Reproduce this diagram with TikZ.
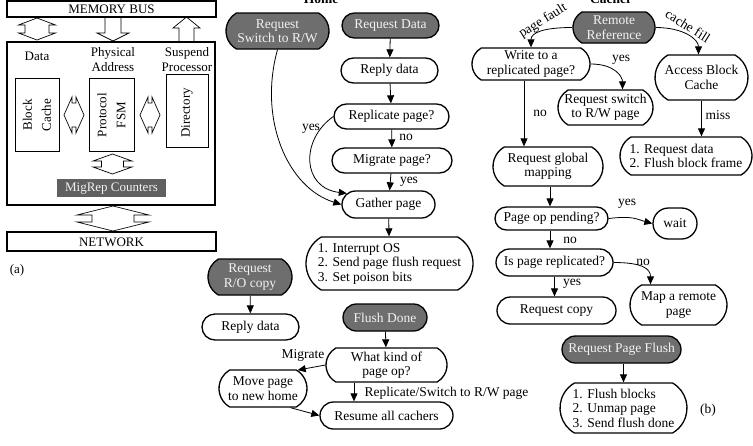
\documentclass[tikz,border=0pt]{standalone}
\usepackage{fontspec}
\setmainfont{Liberation Serif}
\usetikzlibrary{shapes.misc,arrows.meta,calc}
\definecolor{darkfill}{HTML}{6E6E6E}
\definecolor{lighttext}{HTML}{F2F2F2}
\newcommand\myVD[6]{\draw[blk] (#1,#2) -- (#1+#4,#2+#6) -- (#1+#5,#2+#6) -- (#1+#5,#3-#6) -- (#1+#4,#3-#6) -- (#1,#3) -- (#1-#4,#3-#6) -- (#1-#5,#3-#6) -- (#1-#5,#2+#6) -- (#1-#4,#2+#6) -- cycle;}
\newcommand\myHD[6]{\draw[blk] (#2,#1) -- (#2+#6,#1-#4) -- (#2+#6,#1-#5) -- (#3-#6,#1-#5) -- (#3-#6,#1-#4) -- (#3,#1) -- (#3-#6,#1+#4) -- (#3-#6,#1+#5) -- (#2+#6,#1+#5) -- (#2+#6,#1+#4) -- cycle;}
\begin{document}
\begin{tikzpicture}[x=1pt,y=-1pt,
  every node/.style={font=\fontsize{13.5}{14.5}\selectfont, inner sep=0pt},
  pill/.style 2 args={draw, line width=1.3pt, rounded rectangle, minimum width=#1, minimum height=#2, align=center},
  tall/.style={rounded rectangle arc length=120},
  dark/.style={fill=darkfill, text=lighttext},
  arr/.style={-{Triangle[length=8pt,width=7pt]}, line width=0.8pt},
  blk/.style={line width=0.7pt},
  boxa/.style={line width=1.4pt},
  boxb/.style={line width=0.9pt},
  lft/.style={font=\fontsize{13}{15}\selectfont},
  rot/.style={rotate=90, align=center, font=\fontsize{13}{19}\selectfont}]
\useasboundingbox (0,0) rectangle (753,445);

% ---------------- (a) ----------------
\draw[boxa] (7,1) rectangle (216,17);
\node[lft] (mbus) at (111.5,9.5) {MEMORY BUS};
\draw[boxa] (7,42) rectangle (215,205);
\draw[boxa] (7,232) rectangle (216,251);
\node[lft] (net) at (111.5,242) {NETWORK};

% arrows bus -> box
\myVD{37}{18}{40}{18.5}{12}{7}
\draw[blk] (105,17) -- (105,33) -- (97,33) -- (113,41) -- (129,33) -- (121,33) -- (121,17);
\draw[blk] (186.5,17) -- (200,28) -- (194,28) -- (194,42) -- (179,42) -- (179,28) -- (173,28) -- cycle;

\node[lft] (ldata) at (37,56) {Data};
\node[lft, align=center] (lpa) at (113,59.5) {Physical\\Address};
\node[lft, align=center] (lsp) at (187,59.5) {Suspend\\Processor};

\draw[boxb] (15,78) rectangle (59,151);
\node[rot] (bc) at (37,115) {Block\\Cache};
\draw[boxb] (89,78) rectangle (134,151);
\node[rot] (pf) at (111.5,115) {Protocol\\FSM};
\draw[boxb] (166,74) rectangle (208,147);
\node[rot] (dir) at (187,113) {Directory};

\myHD{115}{64}{84}{18}{12}{8}
\myHD{115}{140}{160}{18}{12}{8}
\myVD{112.5}{154}{174}{19.5}{11}{7}

\fill[darkfill!110] (57,179) rectangle (166,197);
\node[lft, text=lighttext] (mig) at (111.5,188.5) {MigRep Counters};
\myVD{113}{206}{231}{36}{21}{9}

\node[lft] (la) at (17,270) {(a)};

% ---------------- titles ----------------
\node[anchor=base, font=\fontsize{13.5}{14.5}\selectfont\bfseries] (home) at (321,3.5) {Home};
\node[anchor=base, font=\fontsize{13.5}{14.5}\selectfont\bfseries] (cacher) at (611,3.5) {Cacher};

% ---------------- Home column ----------------
\node[pill={103pt}{36pt}, tall, dark] (rsw) at (277.5,31) {Request\\Switch to R/W};
\node[pill={97pt}{25pt}, dark] (rdata) at (390.5,25.5) {Request Data};
\node[pill={97pt}{25pt}] (reply1) at (389.5,70.5) {Reply data};
\node[pill={115pt}{25pt}] (rep) at (391.5,116.5) {Replicate page?};
\node[pill={120pt}{25pt}] (migp) at (392,160.5) {Migrate page?};
\node[pill={93pt}{27pt}] (gather) at (388.5,204.5) {Gather page};
\node[pill={167pt}{53pt}, tall, align=left] (list1) at (389.5,263.5) {1. Interrupt OS\\2. Send page flush request\\3. Set poison bits};
\node[pill={84pt}{36pt}, tall, dark] (rro) at (250,277) {Request\\R/O copy};
\node[pill={97pt}{26pt}] (reply2) at (250.5,327) {Reply data};
\node[pill={84pt}{27pt}, dark] (fdone) at (385,317.5) {Flush Done};
\node[pill={121pt}{34pt}, tall] (kind) at (386.5,365) {What kind of\\page op?};
\node[pill={88pt}{37pt}, tall] (move) at (263,388.5) {Move page\\to new home};
\node[pill={133pt}{27pt}] (resume) at (386.5,415.5) {Resume all cachers};

\draw[arr] (rdata) -- (reply1);
\draw[arr] (reply1) -- (rep);
\draw[arr] (rep) -- (migp);
\draw[arr] (migp) -- (gather);
\draw[arr] (gather) -- (list1);
\draw[arr] (rsw.south) .. controls (258,120) and (288,188) .. (gather.west);
\draw[arr] (rep.west) .. controls (300,140) and (302,188) .. (gather.165);
\draw[arr] (rro) -- (reply2);
\draw[arr] (fdone) -- (kind);
\draw[arr] (kind.west) -- (move.28);
\draw[arr] (kind.south -| 354,0) -- (resume.north -| 354,0);
\draw[arr] (move.-35) -- (resume.west);

\node (lyes1) at (311,129) {yes};
\node (lno1) at (406,137) {no};
\node (lyes2) at (409,182) {yes};
\node (lmig) at (303,355) {Migrate};
\node (lrep) at (446.5,393) {Replicate/Switch to R/W page};

% ---------------- Cacher column ----------------
\node[pill={82pt}{31pt}, tall, dark] (remote) at (614,27.5) {Remote\\Reference};
\node[pill={118pt}{32pt}, tall] (write) at (531,64) {Write to a\\replicated page?};
\node[pill={95pt}{35pt}, tall] (rsw2) at (605.5,107.5) {Request switch\\to R/W page};
\node[pill={93pt}{45pt}, tall] (access) at (701.5,77.5) {Access Block\\Cache};
\node[pill={132pt}{38pt}, tall, align=left] (rlist) at (686,156) {1. Request data\\2. Flush block frame};
\node[pill={110pt}{39pt}, tall] (rgm) at (548,166.5) {Request global\\mapping};
\node[pill={113pt}{23pt}] (pop) at (551.5,218.5) {Page op pending?};
\node[pill={44pt}{31pt}] (wait) at (675,223.5) {wait};
\node[pill={117pt}{27pt}] (ispr) at (554.5,262.5) {Is page replicated?};
\node[pill={97pt}{40pt}, tall] (map) at (678.5,305) {Map a remote\\page};
\node[pill={119pt}{27pt}] (rcopy) at (556.5,310.5) {Request copy};
\node[pill={119pt}{27pt}, dark] (rpf) at (621.5,349.5) {Request Page Flush};
\node[pill={127pt}{50pt}, tall, align=left] (flist) at (623.5,408) {1. Flush blocks\\2. Unmap page\\3. Send flush done};

\draw[arr] (remote.west) .. controls +(-28,0) and +(0,-15) .. (write.north);
\draw[arr] (remote.east) .. controls +(28,0) and +(0,-15) .. ($(access.north)+(-3,0)$);
\draw[arr] (write.east) .. controls +(25,0) and +(0,-12) .. ($(rsw2.north)+(17,0)$);
\draw[arr] (write.south -| 524,0) -- (rgm.north -| 524,0);
\draw[arr] (access.south) -- (access.south |- rlist.north);
\draw[arr] (rgm.south -| 550,0) -- (pop.north -| 550,0);
\draw[arr] (pop.east) .. controls +(25,-3) and +(-15,-4) .. (wait.west);
\draw[arr] (pop.south -| 550,0) -- (ispr.north -| 550,0);
\draw[arr] (ispr.east) .. controls +(30,0) and +(0,-15) .. ($(map.north)+(-28,0)$);
\draw[arr] (ispr.south) -- (ispr.south |- rcopy.north);
\draw[arr] (flist.north |- rpf.south) -- (flist.north);

\node[rotate=32] (lpf) at (543,21) {page fault};
\node[rotate=-32] (lcf) at (688,26) {cache fill};
\node (lyes3) at (621,60) {yes};
\node (lno2) at (540,113) {no};
\node (lmiss) at (718,115) {miss};
\node (lyes4) at (627,204) {yes};
\node (lno3) at (570,240) {no};
\node (lno4) at (643,262) {no};
\node (lyes5) at (572,284) {yes};
\node (lb) at (708,410) {(b)};
\end{tikzpicture}
\end{document}
